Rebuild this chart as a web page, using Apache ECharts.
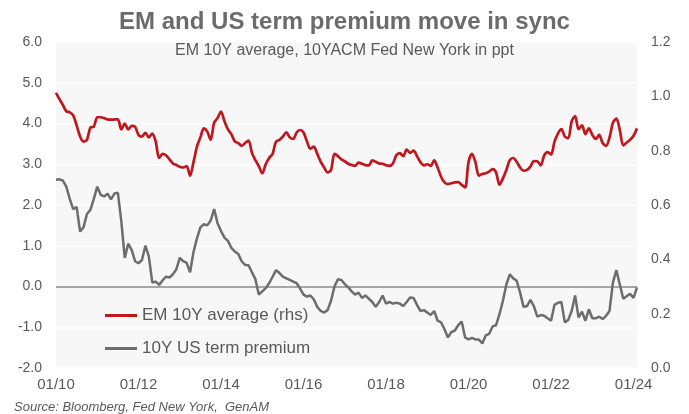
<!DOCTYPE html>
<html>
<head>
<meta charset="utf-8">
<script src="https://cdn.jsdelivr.net/npm/echarts@6/dist/echarts.min.js"></script>
<style>
  html, body { margin: 0; padding: 0; background: #fff; }
  #chart { width: 689px; height: 414px; }
</style>
</head>
<body>
<div id="chart"></div>
<script>
// monthly data, 01/2010 .. 02/2024
var startYear = 2010;
var months = 170;

// EM 10Y average term premium (rhs)
var emAvg = [
  1.013, 0.990, 0.968, 0.945, 0.941, 0.930, 0.893, 0.852, 0.833, 0.840,
  0.885, 0.888, 0.923, 0.923, 0.920, 0.915, 0.914, 0.915, 0.915, 0.878,
  0.900, 0.878, 0.891, 0.888, 0.858, 0.852, 0.866, 0.849, 0.863, 0.833,
  0.773, 0.788, 0.783, 0.768, 0.753, 0.747, 0.741, 0.738, 0.743, 0.708,
  0.758, 0.815, 0.849, 0.882, 0.870, 0.840, 0.903, 0.920, 0.944, 0.908,
  0.878, 0.861, 0.834, 0.828, 0.818, 0.828, 0.837, 0.792, 0.765, 0.743,
  0.717, 0.750, 0.773, 0.788, 0.833, 0.840, 0.852, 0.867, 0.849, 0.843,
  0.867, 0.876, 0.867, 0.834, 0.807, 0.815, 0.788, 0.759, 0.738, 0.720,
  0.729, 0.788, 0.780, 0.768, 0.761, 0.752, 0.747, 0.744, 0.756, 0.752,
  0.747, 0.746, 0.764, 0.759, 0.753, 0.752, 0.746, 0.744, 0.753, 0.783,
  0.791, 0.780, 0.804, 0.792, 0.800, 0.780, 0.758, 0.746, 0.750, 0.744,
  0.764, 0.738, 0.704, 0.683, 0.677, 0.680, 0.683, 0.684, 0.674, 0.665,
  0.758, 0.788, 0.758, 0.708, 0.714, 0.717, 0.723, 0.732, 0.720, 0.675,
  0.698, 0.729, 0.765, 0.773, 0.759, 0.738, 0.726, 0.729, 0.741, 0.762,
  0.761, 0.746, 0.783, 0.795, 0.786, 0.833, 0.863, 0.879, 0.852, 0.846,
  0.908, 0.927, 0.879, 0.893, 0.861, 0.882, 0.858, 0.843, 0.858, 0.828,
  0.818, 0.848, 0.903, 0.918, 0.876, 0.819, 0.830, 0.840, 0.855, 0.882
];

// 10Y US term premium, ACM (lhs)
var usTp = [
  2.62, 2.63, 2.60, 2.45, 2.15, 1.90, 1.95, 1.35, 1.45, 1.78,
  1.88, 2.15, 2.45, 2.25, 2.21, 2.28, 2.14, 2.28, 2.30, 1.60,
  0.70, 1.05, 0.90, 0.62, 0.57, 0.65, 1.00, 0.74, 0.10, 0.12,
  0.04, 0.15, 0.24, 0.22, 0.30, 0.42, 0.70, 0.62, 0.58, 0.35,
  0.85, 1.18, 1.45, 1.53, 1.50, 1.62, 1.90, 1.55, 1.36, 1.20,
  1.12, 0.95, 0.86, 0.80, 0.62, 0.53, 0.52, 0.35, 0.18, -0.20,
  -0.12, -0.04, 0.08, 0.24, 0.40, 0.33, 0.24, 0.20, 0.16, 0.12,
  0.08, -0.05, -0.20, -0.25, -0.22, -0.32, -0.50, -0.60, -0.64, -0.58,
  -0.35, 0.00, 0.18, 0.16, 0.06, -0.02, -0.12, -0.20, -0.15, -0.28,
  -0.22, -0.30, -0.38, -0.50, -0.38, -0.22, -0.42, -0.38, -0.42, -0.40,
  -0.42, -0.48, -0.38, -0.27, -0.28, -0.45, -0.60, -0.58, -0.64, -0.70,
  -0.60, -0.84, -0.88, -1.05, -1.25, -1.12, -1.08, -0.95, -0.86, -1.25,
  -1.30, -1.26, -1.30, -1.30, -1.40, -1.20, -1.16, -0.98, -0.95, -0.68,
  -0.35, 0.05, 0.30, 0.20, 0.14, -0.15, -0.50, -0.48, -0.33, -0.48,
  -0.74, -0.70, -0.72, -0.78, -0.84, -0.45, -0.40, -0.38, -0.88, -0.82,
  -0.60, -0.22, -0.76, -0.62, -0.84, -0.56, -0.78, -0.78, -0.74, -0.80,
  -0.72, -0.60, 0.10, 0.40, 0.05, -0.30, -0.24, -0.18, -0.28, -0.02
];

var categories = [];
for (var i = 0; i < months; i++) {
    var y = startYear + Math.floor(i / 12);
    var m = i % 12 + 1;
    categories.push((m < 10 ? '0' + m : '' + m) + '/' + String(y).slice(2));
}

var txtColor = '#595959';
var fontFam = '"Liberation Sans", Arial, sans-serif';

var myChart = echarts.init(document.getElementById('chart'));
var option = {
    backgroundColor: '#ffffff',
    animation: false,
    textStyle: { fontFamily: fontFam },
    title: [{
        text: 'EM and US term premium move in sync',
        left: 'center',
        top: 5,
        textStyle: { fontSize: 24, fontWeight: 'bold', color: '#6b6b6b', fontFamily: fontFam }
    }, {
        text: 'EM 10Y average, 10YACM Fed New York in ppt',
        left: 'center',
        top: 38,
        textStyle: { fontSize: 16, fontWeight: 'normal', color: txtColor, fontFamily: fontFam }
    }, {
        text: 'Source: Bloomberg, Fed New York,  GenAM',
        left: 9,
        top: 396,
        textStyle: { fontSize: 13, fontWeight: 'normal', fontStyle: 'italic', color: txtColor, fontFamily: fontFam }
    }],
    legend: {
        orient: 'vertical',
        left: 100,
        top: 302,
        itemWidth: 32,
        itemHeight: 3,
        itemGap: 16,
        icon: 'rect',
        textStyle: { fontSize: 17, color: txtColor, fontFamily: fontFam },
        data: ['EM 10Y average (rhs)', '10Y US term premium']
    },
    grid: {
        left: 56,
        right: 52,
        top: 42,
        bottom: 46,
        show: true,
        backgroundColor: '#f7f7f7',
        borderWidth: 0
    },
    xAxis: {
        type: 'category',
        data: categories,
        boundaryGap: false,
        axisLine: { show: false },
        axisTick: { show: false },
        axisLabel: {
            interval: function (idx) { return idx % 24 === 0; },
            color: txtColor,
            fontSize: 15,
            margin: 9
        }
    },
    yAxis: [{
        type: 'value',
        min: -2,
        max: 6,
        interval: 1,
        axisLine: { show: false },
        axisTick: { show: false },
        splitLine: { lineStyle: { color: '#ffffff', width: 1.5 } },
        axisLabel: {
            color: txtColor,
            fontSize: 14,
            margin: 14,
            formatter: function (v) { return v.toFixed(1); }
        }
    }, {
        type: 'value',
        min: 0,
        max: 1.2,
        interval: 0.2,
        axisLine: { show: false },
        axisTick: { show: false },
        splitLine: { show: false },
        axisLabel: {
            color: txtColor,
            fontSize: 14,
            margin: 14,
            formatter: function (v) { return v.toFixed(1); }
        }
    }],
    series: [{
        name: 'EM 10Y average (rhs)',
        type: 'line',
        yAxisIndex: 1,
        data: emAvg,
        showSymbol: false,
        smooth: 0.3,
        color: '#c0161e',
        lineStyle: { width: 2.7, color: '#c0161e' },
        z: 3
    }, {
        name: '10Y US term premium',
        type: 'line',
        yAxisIndex: 0,
        data: usTp,
        showSymbol: false,
        color: '#6d6d6d',
        lineStyle: { width: 2.5, color: '#6d6d6d' },
        z: 2,
        markLine: {
            silent: true,
            symbol: 'none',
            label: { show: false },
            lineStyle: { color: '#a6a6a6', width: 2, type: 'solid' },
            data: [{ yAxis: 0 }],
            z: 1
        }
    }]
};
myChart.setOption(option);
</script>
</body>
</html>
